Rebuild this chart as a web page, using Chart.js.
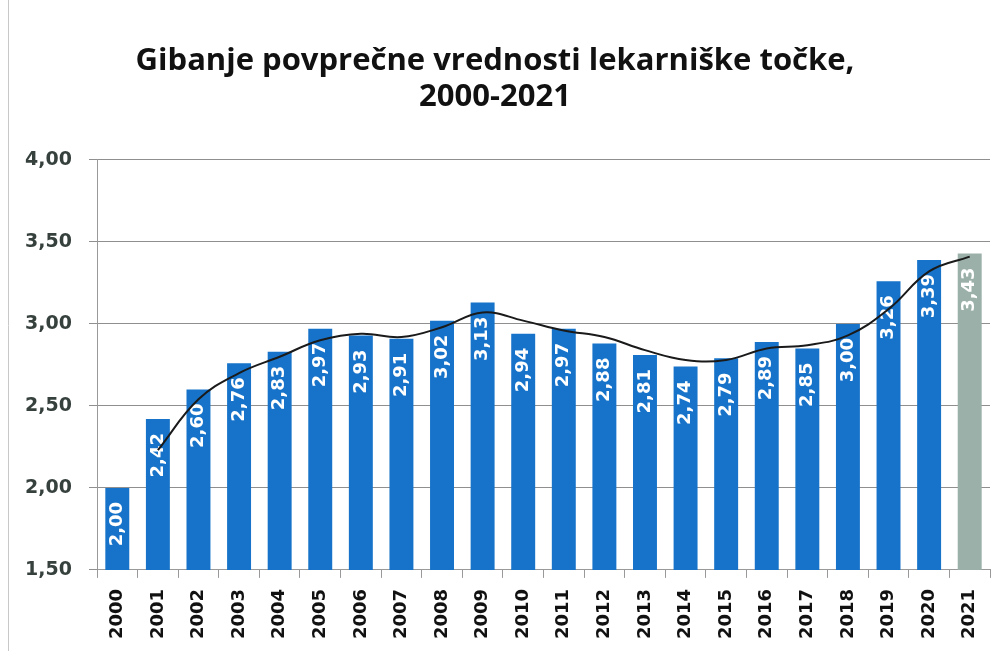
<!DOCTYPE html>
<html>
<head>
<meta charset="utf-8">
<script src="https://cdn.jsdelivr.net/npm/chart.js@4.4.0/dist/chart.umd.min.js"></script>
<style>
  html, body { margin: 0; padding: 0; background: #fff; }
  #wrap { width: 1007px; height: 651px; position: relative; }
</style>
</head>
<body>
<div id="wrap"><canvas id="canvas" width="1007" height="651"></canvas></div>
<script>
// years on the x axis
let years = ['2000', '2001', '2002', '2003', '2004', '2005', '2006', '2007', '2008', '2009', '2010',
             '2011', '2012', '2013', '2014', '2015', '2016', '2017', '2018', '2019', '2020', '2021'];
// average value of the pharmacy point (bars)
let values = [2.00, 2.42, 2.60, 2.76, 2.83, 2.97, 2.93, 2.91, 3.02, 3.13, 2.94,
              2.97, 2.88, 2.81, 2.74, 2.79, 2.89, 2.85, 3.00, 3.26, 3.39, 3.43];
// black trend line
let trend = [null, 2.23, 2.54, 2.70, 2.80, 2.90, 2.94, 2.92, 2.98, 3.07, 3.02,
             2.96, 2.92, 2.84, 2.78, 2.78, 2.85, 2.87, 2.93, 3.09, 3.32, 3.41];
let yTicks = [1.5, 2.0, 2.5, 3.0, 3.5, 4.0];

let comma = v => v.toFixed(2).replace('.', ',');
let barColors = years.map(y => y === '2021' ? '#9bb0a8' : '#1673c9');

// faint frame line on the left edge of the scanned chart
const frame = {
    id: 'frame',
    beforeDraw(chart) {
        const ctx = chart.ctx;
        ctx.save();
        ctx.strokeStyle = '#c8c8c8';
        ctx.lineWidth = 1;
        ctx.beginPath();
        ctx.moveTo(8.5, 0);
        ctx.lineTo(8.5, chart.height);
        ctx.stroke();
        ctx.restore();
    }
};

// white rotated value labels inside the top of each bar
const barLabels = {
    id: 'barLabels',
    afterDatasetDraw(chart, args) {
        if (args.index !== 0) return;
        const ctx = chart.ctx;
        const meta = chart.getDatasetMeta(0);
        ctx.save();
        ctx.fillStyle = '#ffffff';
        ctx.font = 'bold 18px "DejaVu Sans"';
        ctx.textAlign = 'right';
        ctx.textBaseline = 'middle';
        meta.data.forEach((bar, i) => {
            ctx.save();
            ctx.translate(bar.x, bar.y + 14);
            ctx.rotate(-Math.PI / 2);
            ctx.fillText(comma(values[i]), 0, 0);
            ctx.restore();
        });
        ctx.restore();
    }
};

new Chart(document.getElementById('canvas'), {
    type: 'bar',
    data: {
        labels: years,
        datasets: [{
            type: 'bar',
            data: values,
            backgroundColor: barColors,
            categoryPercentage: 1.0,
            barPercentage: 0.59,
            order: 1
        }, {
            type: 'line',
            data: trend,
            borderColor: '#1a1a1a',
            borderWidth: 2,
            pointRadius: 0,
            tension: 0.4,
            fill: false,
            spanGaps: false,
            order: 0
        }]
    },
    options: {
        responsive: false,
        animation: false,
        layout: { padding: { top: 43, left: 0, right: 17, bottom: 1 } },
        plugins: {
            legend: { display: false },
            tooltip: { enabled: false },
            title: {
                display: true,
                text: ['Gibanje povprečne vrednosti lekarniške točke,', '2000-2021'],
                color: '#111',
                font: { family: 'Open Sans', size: 31, weight: 'bold', lineHeight: 1.16 },
                padding: { top: 0, bottom: 45 }
            }
        },
        scales: {
            x: {
                offset: true,
                grid: { display: true, drawOnChartArea: false, drawTicks: true, tickLength: 8, color: '#999', offset: true },
                border: { color: '#999' },
                ticks: {
                    color: '#111',
                    minRotation: 90,
                    maxRotation: 90,
                    padding: 11,
                    font: { family: 'DejaVu Sans', size: 18, weight: 'bold' }
                }
            },
            y: {
                min: 1.5,
                max: 4.0,
                afterBuildTicks: axis => { axis.ticks = yTicks.map(v => ({ value: v })); },
                afterFit: axis => { axis.width = 97; },
                grid: { color: '#8f8f8f', tickLength: 8 },
                border: { color: '#999' },
                ticks: {
                    color: '#36413e',
                    padding: 17,
                    font: { family: 'DejaVu Sans', size: 19, weight: 'bold' },
                    callback: v => comma(v)
                }
            }
        }
    },
    plugins: [frame, barLabels]
});
</script>
</body>
</html>
